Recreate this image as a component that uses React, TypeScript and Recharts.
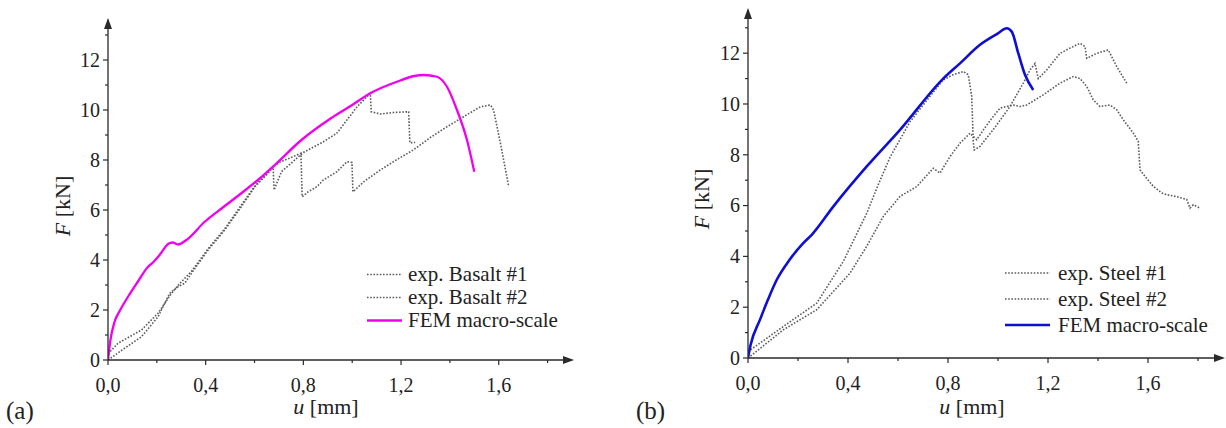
import { LineChart, Line, XAxis, YAxis, ReferenceDot, Legend } from "recharts";

// (a) basalt: [u mm, F kN]
const basalt1 = [
  [0, 0], [0.068, 0.47], [0.137, 0.93], [0.205, 1.73], [0.253, 2.67], [0.287, 2.93],
  [0.314, 3.07], [0.342, 3.47], [0.41, 4.4], [0.478, 5.2], [0.546, 6.13], [0.601, 6.93],
  [0.656, 7.47], [0.676, 7.73], [0.68, 6.8], [0.71, 7.53], [0.8, 8.3], [0.882, 8.73],
  [0.937, 9.07], [1.02, 10.13], [1.074, 10.67], [1.078, 9.93], [1.115, 9.84], [1.17, 9.9],
  [1.231, 9.93], [1.236, 8.69], [1.258, 8.7],
];
const basalt2 = [
  [0, 0.25], [0.041, 0.67], [0.137, 1.2], [0.205, 1.87], [0.26, 2.67], [0.295, 3.07],
  [0.342, 3.55], [0.41, 4.45], [0.478, 5.25], [0.546, 6.2], [0.601, 6.95], [0.656, 7.55],
  [0.7, 7.9], [0.75, 8.1], [0.79, 8.27], [0.795, 6.53], [0.82, 6.73], [0.855, 6.93],
  [0.882, 7.2], [0.937, 7.53], [0.978, 7.93], [0.999, 7.9], [1.003, 6.73], [1.05, 7.15],
  [1.115, 7.6], [1.18, 8.0], [1.25, 8.4], [1.32, 8.9], [1.388, 9.33], [1.456, 9.73],
  [1.525, 10.13], [1.566, 10.2], [1.579, 10.0], [1.607, 8.67], [1.641, 6.93],
];
const femBasalt = [
  [0, 0], [0.01, 0.8], [0.027, 1.53], [0.05, 2.0], [0.082, 2.53], [0.12, 3.1],
  [0.164, 3.73], [0.184, 3.9], [0.215, 4.25], [0.246, 4.64], [0.265, 4.7], [0.287, 4.62],
  [0.321, 4.8], [0.396, 5.53], [0.47, 6.1], [0.546, 6.67], [0.62, 7.25], [0.683, 7.8],
  [0.792, 8.8], [0.91, 9.65], [1.0, 10.2], [1.074, 10.67], [1.183, 11.13], [1.25, 11.35],
  [1.292, 11.4], [1.347, 11.33], [1.388, 10.93], [1.429, 10.0], [1.47, 8.8], [1.5, 7.53],
];

// (b) steel
const steel1 = [
  [0, 0.25], [0.141, 1.24], [0.275, 2.16], [0.381, 3.8], [0.475, 5.7], [0.52, 6.8],
  [0.568, 7.9], [0.648, 9.3], [0.728, 10.3], [0.781, 10.95], [0.82, 11.15], [0.861, 11.28],
  [0.881, 11.15], [0.895, 10.29], [0.901, 8.5], [0.905, 8.19], [0.928, 8.33], [0.981, 8.99],
  [1.048, 9.9], [1.101, 10.82], [1.128, 11.34], [1.148, 11.6], [1.161, 11.0], [1.195, 11.34],
  [1.248, 11.99], [1.288, 12.2], [1.328, 12.39], [1.348, 12.26], [1.355, 11.8], [1.395, 11.99],
  [1.441, 12.13], [1.475, 11.47], [1.515, 10.82],
];
const steel2 = [
  [0, 0], [0.141, 1.11], [0.275, 1.9], [0.408, 3.34], [0.475, 4.4], [0.541, 5.57],
  [0.608, 6.36], [0.675, 6.75], [0.741, 7.47], [0.768, 7.28], [0.808, 7.93], [0.848, 8.46],
  [0.888, 8.85], [0.915, 8.59], [0.95, 9.1], [0.981, 9.51], [1.008, 9.84], [1.035, 9.9],
  [1.061, 9.96], [1.088, 9.9], [1.115, 9.96], [1.181, 10.36], [1.248, 10.82], [1.301, 11.08],
  [1.328, 11.0], [1.355, 10.69], [1.381, 10.16], [1.408, 9.9], [1.448, 9.96], [1.475, 9.77],
  [1.501, 9.38], [1.541, 8.86], [1.561, 8.53], [1.568, 7.41], [1.588, 7.15], [1.621, 6.76],
  [1.655, 6.5], [1.675, 6.43], [1.715, 6.35], [1.755, 6.24], [1.768, 5.9], [1.781, 6.03],
  [1.808, 5.9],
];
const femSteel = [
  [0, 0], [0.01, 0.5], [0.048, 1.51], [0.08, 2.3], [0.115, 3.08], [0.165, 3.85],
  [0.221, 4.52], [0.255, 4.85], [0.341, 5.96], [0.475, 7.54], [0.608, 8.98], [0.781, 11.0],
  [0.848, 11.6], [0.928, 12.33], [1.0, 12.78], [1.035, 12.98], [1.055, 12.85], [1.081, 12.0],
  [1.108, 11.15], [1.141, 10.55],
];

const xTicks = [0, 0.2, 0.4, 0.6, 0.8, 1.0, 1.2, 1.4, 1.6, 1.8];
const xLabelTicks = [0, 0.4, 0.8, 1.2, 1.6];
const yTicks = [0, 1, 2, 3, 4, 5, 6, 7, 8, 9, 10, 11, 12, 13];
const yLabelTicks = [0, 2, 4, 6, 8, 10, 12];

const FONT = '"Liberation Serif", "Times New Roman", serif';
const AXIS = "#2a2a2a";
const GRAY = "#5c5c5c";
const DOT = "1.6 1.6";

const toPts = (arr: number[][]) => arr.map(([u, F]) => ({ u, F }));

const isLabel = (list: number[], v: number) =>
  list.some((t) => Math.abs(t - v) < 1e-6);

const XTick = (props: any) => {
  const { x, y, payload } = props;
  const v = payload.value as number;
  const major = isLabel(xLabelTicks, v);
  return (
    <g>
      <line x1={x} x2={x} y1={y - 5} y2={major ? y : y - 2} stroke={AXIS} strokeWidth={1.2} />
      {major && (
        <text x={x} y={y + 27} textAnchor="middle" fontFamily={FONT} fontSize={20} fill="#222">
          {v.toFixed(1).replace(".", ",")}
        </text>
      )}
    </g>
  );
};

const YTick = (props: any) => {
  const { x, y, payload } = props;
  const v = payload.value as number;
  const major = isLabel(yLabelTicks, v);
  return (
    <g>
      <line x1={major ? x : x + 2} x2={x + 5} y1={y} y2={y} stroke={AXIS} strokeWidth={1.2} />
      {major && (
        <text x={x - 3} y={y} dy="0.34em" textAnchor="end" fontFamily={FONT} fontSize={20} fill="#222">
          {v}
        </text>
      )}
    </g>
  );
};

const ArrowRight = (p: any) => (
  <polygon points={`${p.cx + 2},${p.cy} ${p.cx - 9},${p.cy - 4} ${p.cx - 9},${p.cy + 4}`} fill={AXIS} />
);
const ArrowUp = (p: any) => (
  <polygon points={`${p.cx},${p.cy - 2} ${p.cx - 4},${p.cy + 9} ${p.cx + 4},${p.cy + 9}`} fill={AXIS} />
);

type Series = { name: string; data: number[][]; color: string; dash?: string; width: number; smooth?: boolean };

function Panel({
  series,
  margin,
  yMax,
  legendPos,
  lineLen,
  rowH,
  gap,
}: {
  series: Series[];
  margin: { top: number; right: number; bottom: number; left: number };
  yMax: number;
  legendPos: { left: number; top: number };
  lineLen: number;
  rowH: number;
  gap: number;
}) {
  const legend = () => (
    <div style={{ fontFamily: FONT, fontSize: 21, color: "#222", whiteSpace: "nowrap" }}>
      {series.map((s) => (
        <div key={s.name} style={{ display: "flex", alignItems: "center", height: rowH }}>
          <svg width={lineLen + gap} height={rowH}>
            <line
              x1={0}
              x2={lineLen}
              y1={rowH / 2}
              y2={rowH / 2}
              stroke={s.color}
              strokeWidth={s.width}
              strokeDasharray={s.dash}
            />
          </svg>
          <span>{s.name}</span>
        </div>
      ))}
    </div>
  );

  return (
    <LineChart width={613} height={428} margin={margin}>
      <XAxis
        type="number"
        dataKey="u"
        domain={[0, 1.9]}
        allowDataOverflow
        ticks={xTicks}
        interval={0}
        height={30}
        tickSize={5}
        tickMargin={0}
        tickLine={false}
        tick={(p: any) => <XTick {...p} />}
        axisLine={{ stroke: AXIS, strokeWidth: 1.3 }}
      />
      <YAxis
        type="number"
        dataKey="F"
        domain={[0, yMax]}
        allowDataOverflow
        ticks={yTicks}
        interval={0}
        width={60}
        tickSize={5}
        tickMargin={0}
        tickLine={false}
        tick={(p: any) => <YTick {...p} />}
        axisLine={{ stroke: AXIS, strokeWidth: 1.3 }}
      />
      {series.map((s) => (
        <Line
          key={s.name}
          name={s.name}
          data={toPts(s.data)}
          dataKey="F"
          type={s.smooth ? "monotone" : "linear"}
          stroke={s.color}
          strokeWidth={s.width}
          strokeDasharray={s.dash}
          dot={false}
          activeDot={false}
          isAnimationActive={false}
        />
      ))}
      <ReferenceDot x={1.9} y={0} r={0} shape={ArrowRight} ifOverflow="visible" />
      <ReferenceDot x={0} y={yMax} r={0} shape={ArrowUp} ifOverflow="visible" />
      <Legend
        layout="vertical"
        align="center"
        verticalAlign="middle"
        content={legend}
        wrapperStyle={{ left: legendPos.left, top: legendPos.top, width: 225 }}
      />
    </LineChart>
  );
}

const basaltSeries: Series[] = [
  { name: "exp. Basalt #1", data: basalt1, color: GRAY, dash: DOT, width: 1.6 },
  { name: "exp. Basalt #2", data: basalt2, color: GRAY, dash: DOT, width: 1.6 },
  { name: "FEM macro-scale", data: femBasalt, color: "#f000f0", width: 2.3, smooth: true },
];
const steelSeries: Series[] = [
  { name: "exp. Steel #1", data: steel1, color: GRAY, dash: DOT, width: 1.6 },
  { name: "exp. Steel #2", data: steel2, color: GRAY, dash: DOT, width: 1.6 },
  { name: "FEM macro-scale", data: femSteel, color: "#0f0fd4", width: 2.6, smooth: true },
];

const txt = (extra: any) => ({
  position: "absolute" as const,
  fontFamily: FONT,
  color: "#222",
  whiteSpace: "nowrap" as const,
  ...extra,
});

export default function App() {
  return (
    <div style={{ position: "absolute", left: 0, top: 0, width: 1226, height: 428, background: "#fff", overflow: "hidden" }}>
      <div style={{ position: "absolute", left: 0, top: 0 }}>
        <Panel
          series={basaltSeries}
          margin={{ top: 20, right: 41, bottom: 38, left: 48 }}
          yMax={13.6}
          legendPos={{ left: 367, top: 263 }}
          lineLen={35}
          rowH={23}
          gap={6}
        />
      </div>
      <div style={{ position: "absolute", left: 613, top: 0 }}>
        <Panel
          series={steelSeries}
          margin={{ top: 10, right: 3, bottom: 40, left: 75 }}
          yMax={13.7}
          legendPos={{ left: 392, top: 260 }}
          lineLen={45}
          rowH={26}
          gap={8}
        />
      </div>

      <div style={txt({ left: 63, top: 206, fontSize: 22, transform: "translate(-50%, -50%) rotate(-90deg)" })}>
        <i>F</i> [kN]
      </div>
      <div style={txt({ left: 702, top: 199, fontSize: 22, transform: "translate(-50%, -50%) rotate(-90deg)" })}>
        <i>F</i> [kN]
      </div>
      <div style={txt({ left: 326, top: 407, fontSize: 22, transform: "translate(-50%, -50%)" })}>
        <i>u</i> [mm]
      </div>
      <div style={txt({ left: 972, top: 407, fontSize: 22, transform: "translate(-50%, -50%)" })}>
        <i>u</i> [mm]
      </div>
      <div style={txt({ left: 6, top: 397, fontSize: 25 })}>(a)</div>
      <div style={txt({ left: 636, top: 397, fontSize: 25 })}>(b)</div>
    </div>
  );
}
